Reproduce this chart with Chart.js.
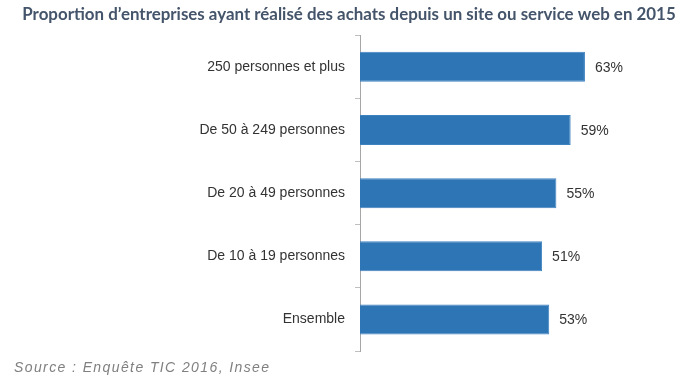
<!DOCTYPE html>
<html>
<head>
<meta charset="utf-8">
<script src="https://cdn.jsdelivr.net/npm/chart.js@4"></script>
<style>
  html, body { margin: 0; padding: 0; background: #fff; }
  #wrap { width: 691px; height: 385px; }
</style>
</head>
<body>
<div id="wrap"><canvas id="chart" width="691" height="385"></canvas></div>
<script>
// Data
const categories = [
    '250 personnes et plus',
    'De 50 à 249 personnes',
    'De 20 à 49 personnes',
    'De 10 à 19 personnes',
    'Ensemble'
];
const shares = [63, 59, 55, 51, 53];
const titleText = 'Proportion d\u2019entreprises ayant réalisé des achats depuis un site ou service web en 2015';
const sourceText = 'Source : Enquête TIC 2016, Insee';

// Value labels next to each bar + source line
const extraText = {
    id: 'extraText',
    afterDatasetsDraw(chart) {
        const ctx = chart.ctx;
        const meta = chart.getDatasetMeta(0);
        ctx.save();
        ctx.font = '14px "Liberation Sans", Arial, sans-serif';
        ctx.fillStyle = '#333333';
        ctx.textBaseline = 'middle';
        ctx.textAlign = 'left';
        meta.data.forEach((bar, i) => {
            ctx.fillText(shares[i] + '%', bar.x + 10, bar.y + 1);
        });

        ctx.font = 'italic 14px "Liberation Sans", Arial, sans-serif';
        ctx.fillStyle = '#808080';
        ctx.letterSpacing = '1.4px';
        ctx.fillText(sourceText, 14, 368);
        ctx.restore();
    }
};

function createChart() {
    const ctx = document.getElementById('chart').getContext('2d');
    new Chart(ctx, {
        type: 'bar',
        data: {
            labels: categories,
            datasets: [{
                data: shares,
                backgroundColor: '#2E75B6',
                borderColor: '#3f82c0',
                borderWidth: 1,
                barPercentage: 0.95,
                categoryPercentage: 0.5
            }]
        },
        options: {
            indexAxis: 'y',
            responsive: false,
            animation: false,
            layout: { padding: { top: 1, right: 0, bottom: 34, left: 7 } },
            scales: {
                x: {
                    display: false,
                    min: 0,
                    max: 92.7
                },
                y: {
                    afterFit: (scale) => { scale.width = 353; },
                    border: { display: true, color: '#a6a6a6', width: 1 },
                    grid: {
                        offset: true,
                        drawOnChartArea: false,
                        drawTicks: true,
                        tickLength: 5,
                        color: '#bfbfbf'
                    },
                    ticks: {
                        padding: 10,
                        color: '#333333',
                        font: { family: '"Liberation Sans", Arial, sans-serif', size: 14 }
                    }
                }
            },
            plugins: {
                legend: { display: false },
                tooltip: { enabled: false },
                title: {
                    display: true,
                    text: titleText,
                    color: '#44546A',
                    font: { family: 'Lato, "Open Sans", sans-serif', size: 16.9, weight: 'bold' },
                    padding: { top: 3, bottom: 11 }
                }
            }
        },
        plugins: [extraText]
    });
}

document.addEventListener('DOMContentLoaded', () => {
    createChart();
});
</script>
</body>
</html>
